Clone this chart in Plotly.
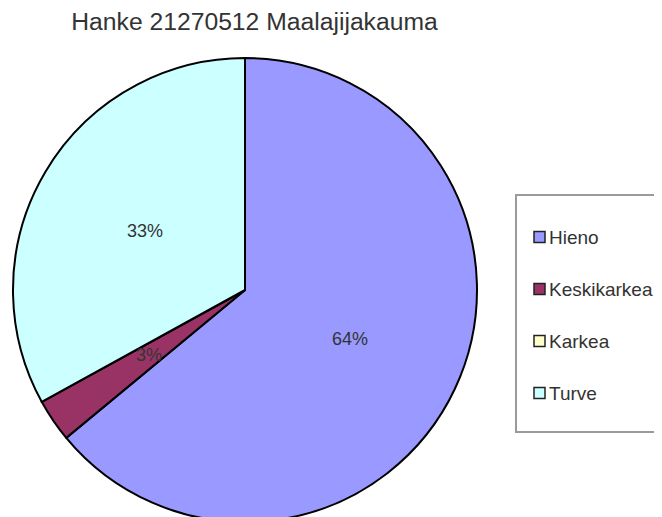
import math
import plotly.graph_objects as go

title_text = "Hanke 21270512 Maalajijakauma"
categories = ["Hieno", "Keskikarkea", "Karkea", "Turve"]
values = [64, 3, 0, 33]
colors = ["#9999FF", "#993366", "#FFFFCC", "#CCFFFF"]

W, H = 662, 527
OFF = 8  # page body margin offset
cx, cy, R = 245, 290, 232  # pie centre / radius in screen px (from top-left)
FONT = "Liberation Sans, Arial, sans-serif"
TXT = "#333333"


def px(x):
    return (x - OFF) / W


def py(y):
    return 1 - (y - OFF) / H


fig = go.Figure(
    go.Pie(
        labels=categories,
        values=values,
        sort=False,
        direction="clockwise",
        rotation=0,
        marker=dict(colors=colors, line=dict(color="black", width=2)),
        textinfo="none",
        hoverinfo="label+percent",
        showlegend=False,
        domain=dict(x=[px(cx - R), px(cx + R)], y=[py(cy + R), py(cy - R)]),
    )
)

annotations = []
shapes = []

# percentage labels at half radius along each slice's mid-angle
total = sum(values)
cum = 0
for cat, v in zip(categories, values):
    if v > 0:
        mid = math.radians((cum + v / 2) / total * 360)
        lx = cx + 0.5 * R * math.sin(mid)
        ly = cy - 0.5 * R * math.cos(mid)
        annotations.append(dict(
            x=px(lx), y=py(ly), xref="paper", yref="paper",
            text=f"{round(v / total * 100)}%", showarrow=False,
            xanchor="center", yanchor="middle",
            font=dict(family=FONT, size=18, color=TXT),
        ))
    cum += v

# legend box
lg_x0, lg_y0, lg_y1 = 516, 195, 432
shapes.append(dict(type="rect", xref="paper", yref="paper",
                   x0=px(lg_x0), x1=px(W + 30), y0=py(lg_y1), y1=py(lg_y0),
                   line=dict(color="#9a9a9a", width=2), fillcolor="white", layer="below"))
row0, row_gap = 237, 52
for i, (cat, col) in enumerate(zip(categories, colors)):
    ry = row0 + i * row_gap
    shapes.append(dict(type="rect", xref="paper", yref="paper",
                       x0=px(534), x1=px(545), y0=py(ry + 5.5), y1=py(ry - 5.5),
                       line=dict(color="#222222", width=1.5), fillcolor=col))
    annotations.append(dict(
        x=px(547), y=py(ry), xref="paper", yref="paper", text=cat,
        showarrow=False, xanchor="left", yanchor="middle",
        font=dict(family=FONT, size=19, color=TXT),
    ))

fig.update_layout(
    width=W, height=H,
    margin=dict(l=0, r=0, t=0, b=0),
    paper_bgcolor="white", plot_bgcolor="white",
    title=dict(text=title_text, x=px(254.5), xanchor="center", xref="paper",
               y=py(21), yanchor="middle", yref="container",
               font=dict(family=FONT, size=24.7, color=TXT)),
    annotations=annotations,
    shapes=shapes,
    showlegend=False,
)

fig.write_html("out.html")
